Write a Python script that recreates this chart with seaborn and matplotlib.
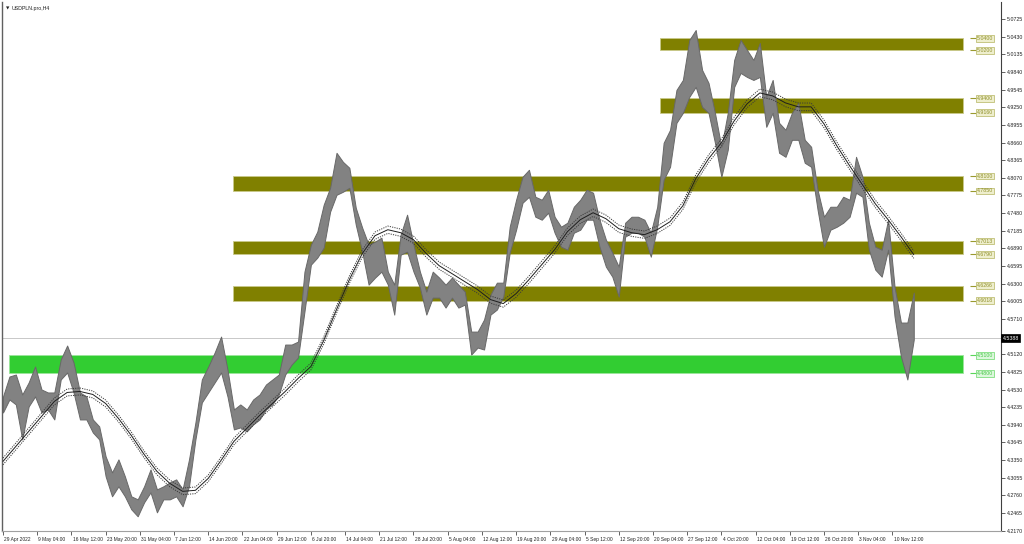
import numpy as np
import pandas as pd
import matplotlib
matplotlib.use("Agg")
import matplotlib.pyplot as plt
import matplotlib.transforms as mtransforms
from matplotlib.patches import Rectangle
import seaborn as sns

# ---------------- data ----------------
symbol = "USDPLN.pro,H4"

# one value per trading day, positioned on the H4 bar index (6 bars per day)
day_bar = np.arange(0, 853, 6)
day_high = [4.4414, 4.4748, 4.4781, 4.4447, 4.4648, 4.4915, 4.4531, 4.4481, 4.4481, 4.5032,
            4.5266, 4.4982, 4.4481, 4.4414, 4.4030, 4.3913, 4.3412, 4.3145, 4.3362, 4.3079,
            4.2745, 4.2694, 4.2912, 4.3195, 4.2861, 4.2912, 4.2978, 4.3028, 4.2861, 4.3362,
            4.3980, 4.4698, 4.4915, 4.5149, 4.5416, 4.4865, 4.4197, 4.4281, 4.4197, 4.4364,
            4.4447, 4.4614, 4.4698, 4.4781, 4.5282, 4.5282, 4.5332, 4.6501, 4.6952, 4.7169,
            4.7620, 4.7903, 4.8488, 4.8337, 4.8237, 4.7569, 4.7236, 4.6952, 4.7002, 4.7069,
            4.6501, 4.6284, 4.7119, 4.7453, 4.6952, 4.6501, 4.6167, 4.6501, 4.6401, 4.6284,
            4.6401, 4.6284, 4.6167, 4.5499, 4.5499, 4.5700, 4.6117, 4.6317, 4.6317, 4.7252,
            4.7703, 4.8087, 4.8204, 4.7753, 4.7703, 4.7870, 4.7419, 4.7252, 4.7319, 4.7586,
            4.7703, 4.7870, 4.7820, 4.7369, 4.7035, 4.6818, 4.6584, 4.7319, 4.7419, 4.7419,
            4.7369, 4.7152, 4.7586, 4.8655, 4.8872, 4.9539, 4.9706, 5.0374, 5.0541, 4.9873,
            4.9656, 4.9155, 4.8588, 4.9155, 5.0040, 5.0374, 5.0207, 5.0040, 5.0324, 4.9423,
            4.9706, 4.8989, 4.8872, 4.9155, 4.9322, 4.8705, 4.8588, 4.7870, 4.7419, 4.7586,
            4.7586, 4.7753, 4.7703, 4.8421, 4.8087, 4.7319, 4.6918, 4.6868, 4.7369, 4.6251,
            4.5650, 4.5650, 4.6150]
day_low = [4.4147, 4.4364, 4.4281, 4.3696, 4.4247, 4.4414, 4.4147, 4.4197, 4.4030, 4.4698,
           4.4815, 4.4481, 4.4030, 4.4030, 4.3813, 4.3696, 4.3079, 4.2745, 4.2912, 4.2745,
           4.2528, 4.2411, 4.2644, 4.2811, 4.2477, 4.2694, 4.2694, 4.2745, 4.2578, 4.2912,
           4.3696, 4.4314, 4.4481, 4.4648, 4.4815, 4.4414, 4.3863, 4.3897, 4.3830, 4.3947,
           4.4030, 4.4197, 4.4281, 4.4447, 4.4781, 4.4948, 4.5065, 4.5833, 4.6618, 4.6735,
           4.6902, 4.7503, 4.7786, 4.7837, 4.7903, 4.7286, 4.6835, 4.6284, 4.6401, 4.6501,
           4.6284, 4.5783, 4.6785, 4.6835, 4.6501, 4.6234, 4.5783, 4.6067, 4.6067, 4.5900,
           4.6067, 4.5900, 4.5950, 4.5115, 4.5232, 4.5199, 4.5783, 4.5867, 4.6084, 4.6818,
           4.7202, 4.7653, 4.7753, 4.7419, 4.7369, 4.7486, 4.7152, 4.6918, 4.6868, 4.7152,
           4.7202, 4.7369, 4.7369, 4.6918, 4.6584, 4.6417, 4.6084, 4.7085, 4.7152, 4.7152,
           4.7085, 4.6751, 4.7252, 4.8037, 4.8254, 4.8989, 4.9155, 4.9423, 4.9590, 4.9256,
           4.9155, 4.8655, 4.8087, 4.8538, 4.9590, 4.9823, 4.9756, 4.9706, 4.9756, 4.8922,
           4.9155, 4.8488, 4.8421, 4.8705, 4.8705, 4.8321, 4.8254, 4.7536, 4.6918, 4.7202,
           4.7252, 4.7319, 4.7419, 4.7820, 4.7753, 4.6868, 4.6534, 4.6417, 4.6868, 4.5750,
           4.5082, 4.4698, 4.5366]

# moving average (every second day) and its envelope width in percent
ma_bar = np.arange(0, 853, 12)
ma_values = [4.3329, 4.3579, 4.3830, 4.4080, 4.4331, 4.4481, 4.4498, 4.4448, 4.4297, 4.4047,
             4.3763, 4.3446, 4.3162, 4.2962, 4.2828, 4.2845, 4.3045, 4.3346, 4.3663, 4.3880,
             4.4097, 4.4297, 4.4498, 4.4715, 4.4915, 4.5349, 4.5867, 4.6367, 4.6802, 4.7102,
             4.7202, 4.7152, 4.7035, 4.6802, 4.6601, 4.6468, 4.6334, 4.6200, 4.6034, 4.5967,
             4.6134, 4.6367, 4.6618, 4.6868, 4.7169, 4.7369, 4.7486, 4.7386, 4.7219, 4.7152,
             4.7119, 4.7202, 4.7336, 4.7603, 4.8054, 4.8388, 4.8655, 4.9022, 4.9306, 4.9489,
             4.9439, 4.9322, 4.9256, 4.9256, 4.8972, 4.8605, 4.8271, 4.7953, 4.7636, 4.7369,
             4.7085, 4.6785]
env_pct = 0.13

last_price = 4.5388

# support / resistance zones
zone_top = [5.0400, 4.9400, 4.8100, 4.7013, 4.6266, 4.5100]
zone_bottom = [5.0200, 4.9160, 4.7850, 4.6790, 4.6018, 4.4800]
zone_start_bar = [615, 615, 215, 215, 215, 6]
zone_end_bar = [898, 898, 898, 898, 898, 898]
zone_kind = ["olive", "olive", "olive", "olive", "olive", "green"]

date_labels = ["29 Apr 2022", "9 May 04:00", "16 May 12:00", "23 May 20:00", "31 May 04:00",
               "7 Jun 12:00", "14 Jun 20:00", "22 Jun 04:00", "29 Jun 12:00", "6 Jul 20:00",
               "14 Jul 04:00", "21 Jul 12:00", "28 Jul 20:00", "5 Aug 04:00", "12 Aug 12:00",
               "19 Aug 20:00", "29 Aug 04:00", "5 Sep 12:00", "12 Sep 20:00", "20 Sep 04:00",
               "27 Sep 12:00", "4 Oct 20:00", "12 Oct 04:00", "19 Oct 12:00", "26 Oct 20:00",
               "3 Nov 04:00", "10 Nov 12:00"]
date_label_bars = np.arange(len(date_labels)) * 32

price_ticks = [5.0725, 5.0430, 5.0135, 4.9840, 4.9545, 4.9250, 4.8955, 4.8660, 4.8365,
               4.8070, 4.7775, 4.7480, 4.7185, 4.6890, 4.6595, 4.6300, 4.6005, 4.5710,
               4.5120, 4.4825, 4.4530, 4.4235, 4.3940, 4.3645, 4.3350, 4.3055, 4.2760,
               4.2465, 4.2170]

# ---------------- styling ----------------
sns.set_style("white")
plt.rcParams["font.family"] = ["Liberation Sans", "DejaVu Sans"]
FS_Y = 3.8
FS_X = 3.55

styles = {
    "olive": dict(face="#808000", edge="#c9c98a", line="#9a9a30",
                  box_fc="#eeeecd", box_ec="#b5b560", txt="#8f8f2a"),
    "green": dict(face="#32cd32", edge="#9be69b", line="#5ad65a",
                  box_fc="#dcf7dc", box_ec="#6ad86a", txt="#46c846"),
}

fig = plt.figure(figsize=(10.24, 5.44), dpi=100)
ax = fig.add_axes([2 / 1024, 13 / 544, 999 / 1024, 529 / 544])
ax.set_facecolor("white")

ax.set_xlim(-0.94, 933.6)
ax.set_ylim(4.2165, 5.1009)

# current price line
ax.axhline(last_price, color="#c8c8c8", lw=0.7, zorder=1)

# zones
for top, bot, s, e, kind in zip(zone_top, zone_bottom, zone_start_bar, zone_end_bar, zone_kind):
    st = styles[kind]
    ax.add_patch(Rectangle((s, bot), e - s, top - bot, facecolor=st["face"],
                           edgecolor=st["edge"], lw=0.6, zorder=2))

# price band (daily high/low)
ax.fill_between(day_bar, day_low, day_high, facecolor="#828282", edgecolor="#686868",
                lw=0.7, zorder=3)

# moving average envelope
ma_df = pd.DataFrame({"bar": ma_bar, "ma": ma_values})
ma_df["upper"] = ma_df["ma"] * (1 + env_pct / 100)
ma_df["lower"] = ma_df["ma"] * (1 - env_pct / 100)
sns.lineplot(data=ma_df, x="bar", y="ma", ax=ax, color="#1e1e1e", lw=0.7, zorder=4)
for col in ("upper", "lower"):
    sns.lineplot(data=ma_df, x="bar", y=col, ax=ax, color="#3a3a3a", lw=0.7,
                 linestyle=(0, (1.2, 1.2)), zorder=4)

# zone price labels
for top, bot, e, kind in zip(zone_top, zone_bottom, zone_end_bar, zone_kind):
    st = styles[kind]
    for lvl in (top, bot):
        ax.plot([e + 7, e + 12], [lvl, lvl], color=st["line"], lw=0.8, zorder=5,
                solid_capstyle="butt")
        ax.text(e + 13, lvl, f"{lvl:.4f}", fontsize=FS_Y, color=st["txt"], ha="left",
                va="center", zorder=6,
                bbox=dict(boxstyle="square,pad=0.18", fc=st["box_fc"], ec=st["box_ec"], lw=0.5))

# axes / ticks
ax.set_xlabel("")
ax.set_ylabel("")
ax.yaxis.tick_right()
ax.set_yticks(price_ticks)
ax.set_yticklabels([f"{v:.4f}" for v in price_ticks])
ax.set_xticks(date_label_bars)
ax.set_xticklabels(date_labels, ha="left")
ax.tick_params(axis="both", which="both", colors="#222222", length=3,
               width=0.5, pad=1.2, direction="out")
ax.tick_params(axis="x", bottom=True, labelsize=FS_X)
ax.tick_params(axis="y", right=True, left=False, labelsize=FS_Y)
for lab in ax.get_xticklabels():
    lab.set_transform(lab.get_transform() + mtransforms.ScaledTranslation(1.2 / 100, 0, fig.dpi_scale_trans))

for side, col, lw in (("left", "#606060", 1.0), ("right", "#404040", 0.8), ("bottom", "#a0a0a0", 0.8)):
    ax.spines[side].set_visible(True)
    ax.spines[side].set_color(col)
    ax.spines[side].set_linewidth(lw)
ax.spines["top"].set_visible(False)
ax.grid(False)

# current price tag on the price axis
trans = mtransforms.blended_transform_factory(ax.transAxes, ax.transData)
ax.text(1.0015, last_price, f"{last_price:.4f}", transform=trans, fontsize=FS_Y, color="white",
        ha="left", va="center", zorder=7, clip_on=False,
        bbox=dict(boxstyle="square,pad=0.25", fc="black", ec="black", lw=0.5))

# title
ax.text(0.0035, 0.991, "\u25BC", transform=ax.transAxes, fontsize=3.2, color="#222222",
        ha="left", va="top", family="DejaVu Sans")
ax.text(0.0095, 0.993, symbol, transform=ax.transAxes, fontsize=FS_Y, color="#222222",
        ha="left", va="top")

fig.savefig("out.png", dpi=100, facecolor="white")
